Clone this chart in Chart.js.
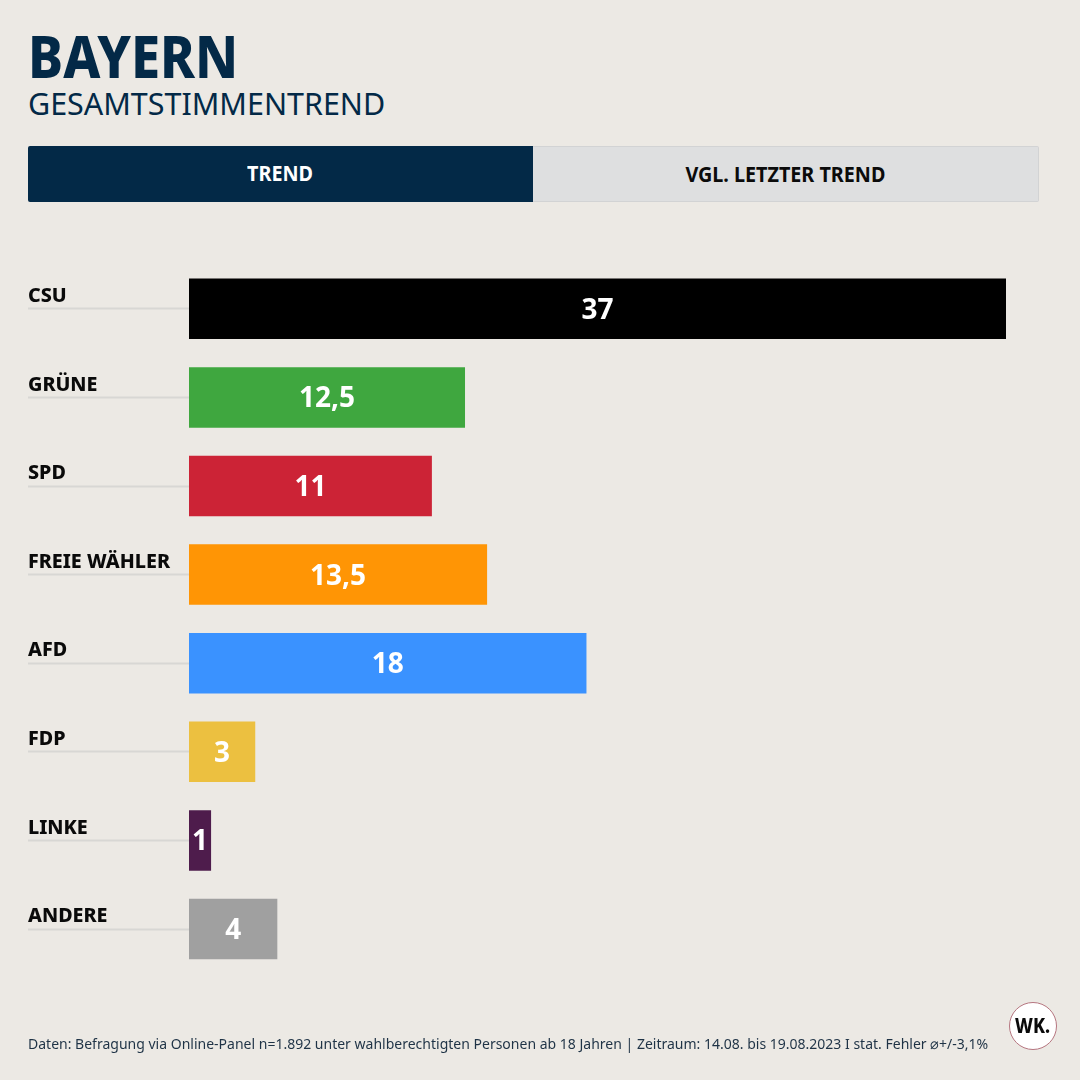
<!DOCTYPE html>
<html lang="de"><head><meta charset="utf-8">
<script src="https://cdn.jsdelivr.net/npm/chart.js@4"></script>
<style>
html,body{margin:0;padding:0;width:1080px;height:1080px;overflow:hidden;background:#ece9e4}
body{position:relative;font-family:"Noto Sans",sans-serif}
.t{position:absolute;white-space:nowrap;transform-origin:0 0}
#chart{position:absolute;left:0;top:0}
.tab{position:absolute;top:146px;height:56px;line-height:54px;text-align:center;font-weight:700;font-size:21px;box-sizing:border-box}
.tab span{display:inline-block;transform:scaleX(.94)}
</style></head><body>
<div class="t" style="left:28px;top:15px;font-size:59px;font-weight:800;color:#032947;transform:scaleX(.89)">BAYERN</div>
<div class="t" style="left:28px;top:82px;font-size:31px;color:#032947;transform:scaleX(.982)">GESAMTSTIMMENTREND</div>
<div class="tab" style="left:28px;width:505px;background:#032947;color:#fff;border-radius:2px 0 0 2px"><span>TREND</span></div>
<div class="tab" style="left:533px;width:506px;background:#dedfe0;color:#0b0b0b;border:1px solid #d2d3d4;border-left:0;border-radius:0 2px 2px 0"><span>VGL. LETZTER TREND</span></div>
<canvas id="chart" width="1080" height="1080"></canvas>
<div class="t" style="left:28px;top:1033px;font-size:14.5px;color:#1f3346;transform:scaleX(.966)">Daten: Befragung via Online-Panel n=1.892 unter wahlberechtigten Personen ab 18 Jahren | Zeitraum: 14.08. bis 19.08.2023 I stat. Fehler ⌀+/-3,1%</div>
<div style="position:absolute;left:1009px;top:1002px;width:48px;height:48px;box-sizing:border-box;border:1.5px solid #b5757f;border-radius:50%;background:#fff;color:#0a0a0a;font-weight:800;font-size:21px;line-height:45px;text-align:center"><span style="display:inline-block;transform:scaleX(.85)">WK.</span></div>
<script>
const categories = ["CSU","GRÜNE","SPD","FREIE WÄHLER","AFD","FDP","LINKE","ANDERE"];
const values = [37,12.5,11,13.5,18,3,1,4];
const valueLabels = ["37","12,5","11","13,5","18","3","1","4"];
const barColors = ["#000000","#3fa73f","#cc2336","#ff9505","#3a92ff","#ecc040","#4e1c4c","#a0a0a0"];

const barLabels = {
  id:"barLabels",
  afterDatasetsDraw(chart){
    const ctx = chart.ctx, bars = chart.getDatasetMeta(0).data;
    ctx.save();
    ctx.fillStyle = "#fff";
    ctx.font = '700 28px "Noto Sans"';
    ctx.textAlign = "center";
    ctx.textBaseline = "middle";
    bars.forEach((b,i)=>{
      ctx.fillText(valueLabels[i], (b.x+b.base)/2, b.y+2);
    });
    ctx.restore();
  }
};

new Chart(document.getElementById("chart"),{
  type:"bar",
  data:{labels:categories,datasets:[{data:values,backgroundColor:barColors,borderWidth:0,barPercentage:0.683,categoryPercentage:1}]},
  plugins:[barLabels],
  options:{
    indexAxis:"y",
    responsive:false,
    animation:false,
    layout:{padding:{left:28,right:74,top:264.5,bottom:106.7}},
    plugins:{legend:{display:false},tooltip:{enabled:false},title:{display:false}},
    scales:{
      x:{display:false,min:0,max:37},
      y:{
        afterFit(s){s.width=161;},
        border:{display:false},
        grid:{offset:false,drawOnChartArea:false,drawTicks:true,tickLength:161,tickWidth:2,tickColor:"#d8d7d4"},
        ticks:{crossAlign:"far",labelOffset:-12.5,padding:0,color:"#0a0a0a",font:{family:"Noto Sans",weight:"800",size:19.7}}
      }
    }
  }
});
</script>
</body></html>
